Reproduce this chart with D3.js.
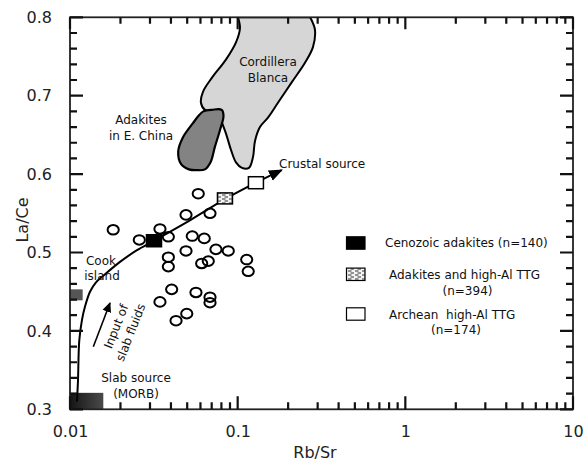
<!DOCTYPE html>
<html><head><meta charset="utf-8">
<script src="https://cdn.jsdelivr.net/npm/d3@7"></script>
<style>
body{margin:0;background:#fff;}
svg{display:block;font-family:"DejaVu Sans",Verdana,sans-serif;}
</style>
</head><body>
<svg id="chart" width="587" height="464"></svg>
<script>
// ---------- data ----------
const xTickValues = [0.01, 0.1, 1, 10];
const xTickLabels = ["0.01", "0.1", "1", "10"];
const yTickValues = [0.3, 0.4, 0.5, 0.6, 0.7, 0.8];
const yTickLabels = ["0.3", "0.4", "0.5", "0.6", "0.7", "0.8"];

// open circles (samples)
const sampleRbSr = [0.0582,0.0181,0.0492,0.0684,0.0344,0.0259,0.0386,0.0536,0.0632,0.0492,0.0742,0.0879,0.0386,0.0386,0.0610,0.0668,0.1132,0.1156,0.0404,0.0344,0.0564,0.0684,0.0684,0.0497,0.0429];
const sampleLaCe = [0.575,0.529,0.548,0.550,0.530,0.516,0.520,0.521,0.518,0.502,0.504,0.502,0.494,0.482,0.486,0.489,0.491,0.476,0.453,0.437,0.449,0.443,0.436,0.422,0.413];

// trend curve: slab source -> crustal source
const trendRbSr = [0.01101,0.01116,0.01136,0.01179,0.01229,0.01316,0.01429,0.01573,0.01987,0.02509,0.03169,0.0519,0.0840,0.1285,0.1830];
const trendLaCe = [0.310,0.337,0.388,0.414,0.431,0.450,0.462,0.470,0.488,0.503,0.515,0.541,0.568,0.589,0.605];

// reference averages (squares)
const refNames = ["Cenozoic adakites (n=140)", "Adakites and high-Al TTG (n=394)", "Archean  high-Al TTG (n=174)"];
const refRbSr = [0.0317, 0.0840, 0.1285];
const refLaCe = [0.515, 0.569, 0.589];

// field outlines
const cordilleraRbSr = [0.1004,0.1032,0.0977,0.0851,0.0703,0.0621,0.0604,0.0638,0.0763,0.0795,0.0851,0.0912,0.0977,0.1061,0.1168,0.1235,0.1268,0.1358,0.1516,0.1739,0.2099,0.2520,0.2812,0.2891,0.2736,0.2700];
const cordilleraLaCe = [0.800,0.786,0.768,0.746,0.723,0.705,0.691,0.682,0.679,0.669,0.652,0.631,0.615,0.608,0.608,0.622,0.642,0.660,0.672,0.691,0.717,0.742,0.762,0.784,0.798,0.800];
const chinaRbSr = [0.0624,0.0703,0.0803,0.0823,0.0784,0.0732,0.0689,0.0638,0.0572,0.0512,0.0459,0.0442,0.0472,0.0541,0.0588];
const chinaLaCe = [0.680,0.682,0.682,0.674,0.656,0.635,0.615,0.606,0.605,0.606,0.613,0.629,0.647,0.665,0.675];

// source boxes [x0,x1,y0,y1]
const morbBox = [0.01, 0.0158, 0.300, 0.321];
const cookBox = [0.01, 0.0119, 0.439, 0.453];

// ---------- drawing ----------
const svg = d3.select("#chart");
const L = 70, R = 573, T = 17.3, B = 409.3;
const x = d3.scaleLog().domain([0.01, 10]).range([L, R]);
const y = d3.scaleLinear().domain([0.3, 0.8]).range([B, T]);

const defs = svg.append("defs");
defs.append("clipPath").attr("id", "plotclip").append("rect")
  .attr("x", L).attr("y", T).attr("width", R - L).attr("height", B - T);
const grad = defs.append("linearGradient").attr("id", "morbgrad");
grad.append("stop").attr("offset", "0%").attr("stop-color", "#151515");
grad.append("stop").attr("offset", "100%").attr("stop-color", "#4a4a4a");
const pat = defs.append("pattern").attr("id", "brick").attr("patternUnits", "userSpaceOnUse")
  .attr("width", 7).attr("height", 4);
pat.append("rect").attr("width", 7).attr("height", 4).attr("fill", "#f4f4f4");
pat.append("path").attr("d", "M0.5,1 H4 M5,3 H7 M0,3 H1.5").attr("stroke", "#333").attr("stroke-width", 1);
defs.append("marker").attr("id", "arrowBig").attr("viewBox", "0 0 10 10")
  .attr("refX", 9).attr("refY", 5).attr("markerWidth", 14).attr("markerHeight", 14)
  .attr("markerUnits", "userSpaceOnUse").attr("orient", "auto")
  .append("path").attr("d", "M0,1 L10,5 L0,9 Z").attr("fill", "#000");
defs.append("marker").attr("id", "arrowSmall").attr("viewBox", "0 0 10 10")
  .attr("refX", 9).attr("refY", 5).attr("markerWidth", 10).attr("markerHeight", 10)
  .attr("markerUnits", "userSpaceOnUse").attr("orient", "auto")
  .append("path").attr("d", "M0,0.5 L10,5 L0,9.5 Z").attr("fill", "#000");

const plot = svg.append("g").attr("clip-path", "url(#plotclip)");

// Cordillera Blanca field
const cordPts = cordilleraRbSr.map((v, i) => [v, cordilleraLaCe[i]]);
const openLine = d3.line().x(d => x(d[0])).y(d => y(d[1])).curve(d3.curveCatmullRom.alpha(0.5));
plot.append("path").attr("d", openLine(cordPts) + "Z")
  .attr("fill", "#d6d6d6").attr("stroke", "#000").attr("stroke-width", 2).attr("stroke-linejoin", "round");

// E. China adakites field
const chinaPts = chinaRbSr.map((v, i) => [v, chinaLaCe[i]]);
const closedLine = d3.line().x(d => x(d[0])).y(d => y(d[1])).curve(d3.curveCatmullRomClosed.alpha(0.5));
plot.append("path").attr("d", closedLine(chinaPts))
  .attr("fill", "#838383").attr("stroke", "#000").attr("stroke-width", 2.2);

// source boxes
plot.append("rect").attr("x", x(morbBox[0])).attr("y", y(morbBox[3]))
  .attr("width", x(morbBox[1]) - x(morbBox[0])).attr("height", y(morbBox[2]) - y(morbBox[3]))
  .attr("fill", "url(#morbgrad)");
plot.append("rect").attr("x", x(cookBox[0])).attr("y", y(cookBox[3]))
  .attr("width", x(cookBox[1]) - x(cookBox[0])).attr("height", y(cookBox[2]) - y(cookBox[3]))
  .attr("fill", "#555");

// trend curve with arrow
const trendPts = trendRbSr.map((v, i) => [v, trendLaCe[i]]);
plot.append("path").attr("d", openLine(trendPts))
  .attr("fill", "none").attr("stroke", "#000").attr("stroke-width", 2)
  .attr("marker-end", "url(#arrowBig)");

// open circles
plot.selectAll("ellipse.s").data(sampleRbSr).join("ellipse").attr("class", "s")
  .attr("cx", d => x(d)).attr("cy", (d, i) => y(sampleLaCe[i]))
  .attr("rx", 5.6).attr("ry", 4.8)
  .attr("fill", "none").attr("stroke", "#000").attr("stroke-width", 2);

// reference squares
const refFill = ["#000", "url(#brick)", "#fff"];
const refH = [12, 11, 12];
plot.selectAll("rect.ref").data(refRbSr).join("rect").attr("class", "ref")
  .attr("x", d => x(d) - 7.5).attr("y", (d, i) => y(refLaCe[i]) - refH[i] / 2)
  .attr("width", 15).attr("height", (d, i) => refH[i])
  .attr("fill", (d, i) => refFill[i]).attr("stroke", "#000").attr("stroke-width", 1.5);

// slab fluids arrow
svg.append("line").attr("x1", 93.3).attr("y1", 346.7).attr("x2", 110).attr("y2", 303)
  .attr("stroke", "#000").attr("stroke-width", 1.6).attr("marker-end", "url(#arrowSmall)");

// annotations
const ann = svg.append("g").attr("font-size", 12).attr("fill", "#111").attr("text-anchor", "middle");
ann.append("text").attr("x", 268).attr("y", 66).text("Cordillera");
ann.append("text").attr("x", 268).attr("y", 82).text("Blanca");
ann.append("text").attr("x", 141).attr("y", 123.5).text("Adakites");
ann.append("text").attr("x", 141).attr("y", 139.5).text("in E. China");
ann.append("text").attr("x", 279).attr("y", 167.5).attr("text-anchor", "start").text("Crustal source");
ann.append("text").attr("x", 101).attr("y", 264.5).text("Cook");
ann.append("text").attr("x", 102).attr("y", 280).text("island");
ann.append("text").attr("x", 136).attr("y", 381.5).text("Slab source");
ann.append("text").attr("x", 136).attr("y", 397.5).text("(MORB)");
ann.append("text").attr("transform", "translate(120,328) rotate(-68.5)").text("Input of");
ann.append("text").attr("transform", "translate(134.5,334) rotate(-68.5)").text("slab fluids");

// legend
const leg = svg.append("g").attr("font-size", 12).attr("fill", "#111");
const legY = [243, 274.3, 314];
leg.selectAll("rect").data(refNames).join("rect")
  .attr("x", 346.5).attr("y", (d, i) => legY[i] - 6.2).attr("width", 18.5).attr("height", 12.4)
  .attr("fill", (d, i) => refFill[i]).attr("stroke", "#000").attr("stroke-width", 1.2);
leg.append("text").attr("x", 385).attr("y", 247).text("Cenozoic adakites (n=140)");
leg.append("text").attr("x", 389).attr("y", 278.5).text("Adakites and high-Al TTG");
leg.append("text").attr("x", 467.5).attr("y", 294.5).attr("text-anchor", "middle").text("(n=394)");
leg.append("text").attr("x", 389).attr("y", 318.5).attr("xml:space", "preserve").text("Archean  high-Al TTG");
leg.append("text").attr("x", 456).attr("y", 334).attr("text-anchor", "middle").text("(n=174)");

// ---------- axes ----------
const minorX = [];
[0.01, 0.1, 1].forEach(d => { for (let k = 2; k <= 9; k++) minorX.push(d * k); });
const minorY = d3.range(32, 80, 2).map(v => v / 100).filter(v => Math.round(v * 100) % 10 !== 0);
const axCol = "#222";

// frame
svg.append("rect").attr("x", L).attr("y", T).attr("width", R - L).attr("height", B - T)
  .attr("fill", "none").attr("stroke", axCol).attr("stroke-width", 1.8);

// tick marks, one path through the scales (drawn over the frame)
const tp = d3.path();
minorX.forEach(d => { const px = x(d); tp.moveTo(px, B); tp.lineTo(px, B - 7); tp.moveTo(px, T); tp.lineTo(px, T + 6.5); });
xTickValues.forEach(d => { const px = x(d); tp.moveTo(px, B); tp.lineTo(px, B - 13); tp.moveTo(px, T); tp.lineTo(px, T + 12); });
minorY.forEach(d => { const py = y(d); tp.moveTo(L, py); tp.lineTo(L + 7, py); tp.moveTo(R, py); tp.lineTo(R - 7, py); });
yTickValues.forEach(d => { const py = y(d); tp.moveTo(L, py); tp.lineTo(L + 13, py); tp.moveTo(R, py); tp.lineTo(R - 13, py); });
svg.append("path").attr("class", "ticks").attr("d", tp.toString())
  .attr("fill", "none").attr("stroke", "#111").attr("stroke-width", 2.2);

// tick labels through d3 axes (no lines)
svg.append("g").attr("transform", `translate(0,${B})`)
  .call(d3.axisBottom(x).tickValues(xTickValues).tickSize(0).tickPadding(16)
    .tickFormat((d, i) => xTickLabels[i]))
  .call(g => g.select(".domain").remove())
  .call(g => g.selectAll("text").attr("font-size", 16).attr("fill", "#222").attr("font-family", "DejaVu Sans"));
svg.append("g").attr("transform", `translate(${L},0)`)
  .call(d3.axisLeft(y).tickValues(yTickValues).tickSize(0).tickPadding(18)
    .tickFormat((d, i) => yTickLabels[i]))
  .call(g => g.select(".domain").remove())
  .call(g => g.selectAll("text").attr("font-size", 16).attr("fill", "#222").attr("font-family", "DejaVu Sans"));

// axis titles
svg.append("text").attr("x", 315).attr("y", 458).attr("text-anchor", "middle")
  .attr("font-size", 16).attr("fill", "#222").text("Rb/Sr");
svg.append("text").attr("transform", "translate(28,220) rotate(-90)").attr("text-anchor", "middle")
  .attr("font-size", 16).attr("fill", "#222").text("La/Ce");
</script>
</body></html>
